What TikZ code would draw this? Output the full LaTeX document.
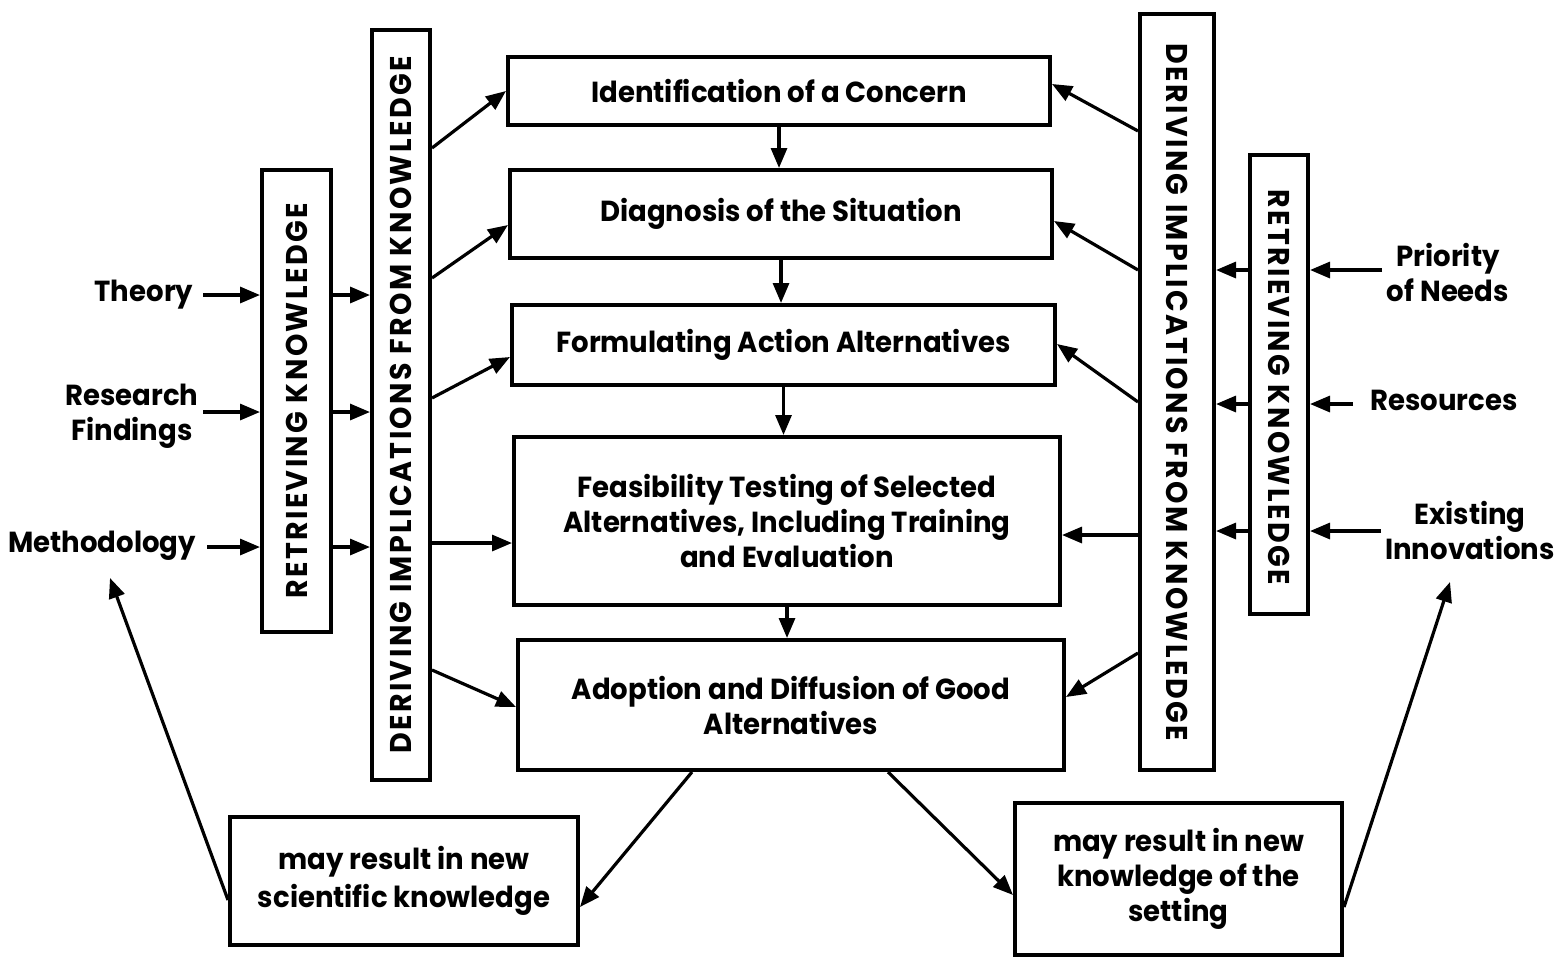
\documentclass[tikz,border=0pt]{standalone}
\usepackage{fontspec}
\setmainfont{Poppins}[FakeStretch=0.95]
\newfontfamily\spacedfont{Poppins}[FakeStretch=0.95,LetterSpace=8]
\usetikzlibrary{arrows.meta,fit}
\begin{document}
\begin{tikzpicture}[x=0.5pt,y=-0.5pt,
  font=\bfseries\fontsize{14.5}{17.5}\selectfont,
  box/.style={draw,line width=2pt,inner sep=0pt,align=center},
  vtext/.style={font=\spacedfont\bfseries\fontsize{15}{16}\selectfont},
  lbl/.style={align=center,inner sep=0pt},
  arr/.style={line width=1.6pt,-{Triangle[length=10pt,width=8pt]}},
  ln/.style={line width=1.6pt}]
\useasboundingbox (0,0) rectangle (1558,959);
% central boxes
\node[box,minimum width=271pt,minimum height=34pt] (b1) at (779,91) {Identification of a Concern};
\node[box,minimum width=271pt,minimum height=44pt] (b2) at (781,214) {Diagnosis of the Situation};
\node[box,minimum width=271.5pt,minimum height=40pt] (b3) at (783.5,345) {Formulating Action Alternatives};
\node[box,minimum width=273pt,minimum height=84pt] (b4) at (787,521) {Feasibility Testing of Selected\\Alternatives, Including Training\\and Evaluation};
\node[box,minimum width=273pt,minimum height=65pt] (b5) at (791,705) {Adoption and Diffusion of Good\\Alternatives};
% bottom boxes
\node[box,minimum width=174pt,minimum height=64pt,font=\bfseries\fontsize{14.5}{19}\selectfont] (sk) at (404,881) {may result in new\\scientific knowledge};
\node[box,minimum width=163.5pt,minimum height=76pt] (ks) at (1178.5,879) {may result in new\\knowledge of the\\setting};
% vertical boxes
\node[box,fit={(372,30) (430,780)}] (dl) {};
\node[vtext,rotate=90] (dlt) at (dl.center) {DERIVING IMPLICATIONS FROM KNOWLEDGE};
\node[box,fit={(262,170) (331,632)}] (rl) {};
\node[vtext,rotate=90] (rlt) at (rl.center) {RETRIEVING KNOWLEDGE};
\node[box,fit={(1140,14) (1214,770)}] (dr) {};
\node[vtext,rotate=-90] (drt) at (dr.center) {DERIVING IMPLICATIONS FROM KNOWLEDGE};
\node[box,fit={(1250,155) (1308,614)}] (rr) {};
\node[vtext,rotate=-90] (rrt) at (1279,387) {RETRIEVING KNOWLEDGE};
% side labels
\node[lbl] (th) at (144,295) {Theory};
\node[lbl] (rf) at (132,416) {Research\\Findings};
\node[lbl] (me) at (102,546) {Methodology};
\node[lbl] (pn) at (1448,272) {Priority\\of Needs};
\node[lbl] (rs) at (1444,400) {Resources};
\node[lbl] (ei) at (1470,530) {Existing\\Innovations};
% flow arrows
\draw[arr] (b1.south) -- (b2.north -| b1.south);
\draw[arr] (b2.south) -- (b3.north -| b2.south);
\draw[arr] (b3.south) -- (b4.north -| b3.south);
\draw[arr] (b4.south) -- (b5.north -| b4.south);
% left inputs
\draw[arr] (203,295) -- (rl.west |- th.east);
\draw[arr] (203,412) -- (rl.west |- 0,412);
\draw[arr] (207,547) -- (rl.west |- 0,547);
\draw[arr] (rl.east |- 0,295) -- (dl.west |- 0,295);
\draw[arr] (rl.east |- 0,412) -- (dl.west |- 0,412);
\draw[arr] (rl.east |- 0,547) -- (dl.west |- 0,547);
\draw[arr] (dl.east |- 0,148) -- (b1.west |- 0,91);
\draw[arr] (dl.east |- 0,278) -- (b2.west |- 0,225);
\draw[arr] (dl.east |- 0,398) -- (b3.west |- 0,357);
\draw[arr] (dl.east |- 0,543) -- (b4.west |- 0,543);
\draw[arr] (dl.east |- 0,670) -- (b5.west |- 0,707);
% right inputs
\draw[arr] (1382,270) -- (rr.east |- 0,270);
\draw[arr] (1353,404) -- (rr.east |- 0,404);
\draw[arr] (1381,531) -- (rr.east |- 0,531);
\draw[arr] (rr.west |- 0,270) -- (dr.east |- 0,270);
\draw[arr] (rr.west |- 0,404) -- (dr.east |- 0,404);
\draw[arr] (rr.west |- 0,531) -- (dr.east |- 0,531);
\draw[arr] (dr.west |- 0,131) -- (b1.east |- 0,84);
\draw[arr] (dr.west |- 0,270) -- (b2.east |- 0,221);
\draw[arr] (dr.west |- 0,402) -- (b3.east |- 0,344);
\draw[arr] (dr.west |- 0,535) -- (b4.east |- 0,535);
\draw[arr] (dr.west |- 0,653) -- (b5.east |- 0,697);
% outputs
\draw[arr] (b5.south -| 692,0) -- (sk.east |- 0,907);
\draw[arr] (b5.south -| 888,0) -- (ks.west |- 0,895);
\draw[arr] (sk.west |- 0,900) -- (110,578);
\draw[arr] (ks.east |- 0,907) -- (1450,582);
\end{tikzpicture}
\end{document}
